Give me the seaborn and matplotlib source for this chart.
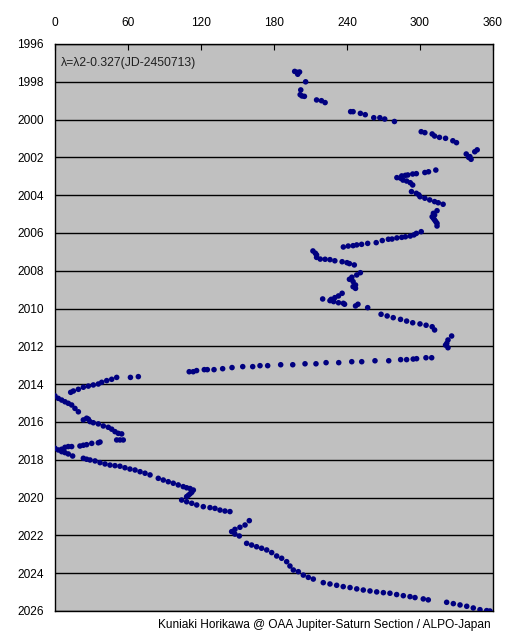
import pandas as pd
import matplotlib.pyplot as plt
import seaborn as sns

# Drift of the spot: longitude (System II corrected) vs. year
lon = [
    # 1997-2002
    199, 197, 201, 199.5, 206, 202, 201.5, 203, 205, 215, 219, 222, 243, 245, 251, 255,
    262, 267, 271, 279, 301, 304, 310, 312, 316, 321, 327, 330, 338, 341, 342, 340, 345, 347,
    # 2002-2006
    313, 304, 307, 297, 294, 290, 288, 285, 281, 284, 286, 289, 292, 294, 293, 297, 299, 300,
    304, 308, 312, 315, 319, 314, 311, 310, 312, 314, 314, 312, 311, 313,
    301, 297, 295, 292, 288, 285, 281, 277, 274, 269, 264, 257, 252, 248, 245, 241, 237,
    # 2007-2012
    212, 214, 215, 215, 218, 222, 226, 230, 236, 240, 242, 246,
    251, 248, 244, 242, 245, 247, 245, 247,
    220, 236, 233, 230, 227, 226, 229, 233, 237, 238, 247, 249, 257,
    268, 273, 278, 284, 289, 294, 300, 305, 310, 312,
    326, 323, 322, 321, 323,
    # 2012-2014
    309.6, 304.9, 297.2, 294.4, 289, 284.1, 274.3, 263, 252.1, 243.9, 233.2, 222.8, 214.5,
    205.5, 195.4, 185.5, 174.8, 168.5, 162.5, 154.3, 145.5, 137.8, 130.7, 125.2, 122.7,
    116.4, 113.6, 110.3, 68.5, 62,
    50.7, 46.6, 42.5, 38.4, 35.6, 31.5, 27.4, 23.3, 19.2, 15.1, 12.9,
    # 2014-2017
    0, 2.7, 5.5, 8.2, 10.9, 13.7, 16.4, 19.2, 23.3, 26, 27.4, 28.8, 31.5, 35.6, 39.7, 43.8,
    46.6, 49.3, 52, 54.8, 53.4, 50.7, 56.1,
    0, 2.7, 5.5, 8.2, 10.9, 13.7, 20.5, 23.3, 26, 30.2, 35.6, 37, 5.5, 8.2, 10.9, 14.5,
    # 2018-2022
    23.3, 26, 28.8, 32.9, 37, 41.1, 45.2, 49.3, 53.4, 57.5, 61.6, 65.8, 69.9, 74, 78.1,
    84.9, 89, 93.1, 97.2, 101.3, 105.4, 108.2, 111, 113.7, 112.4, 111, 109.6, 108.2,
    104.1, 108.2, 112.4, 116.5, 121.9, 127.4, 131.5, 135.6, 139.7, 143.8,
    159.7, 156.2, 152, 147.9, 145.2, 147.9, 151.5,
    # 2022-2026
    157.5, 161.6, 165.7, 169.8, 174, 178.1, 182.2, 186.3, 190.4, 193.1, 195.9, 200, 204.1,
    208.2, 212.3,
    220.5, 226, 231.5, 236.9, 242.5, 248, 253.4, 258.9, 264.4, 269.9, 275.3, 280.8, 286.3,
    291.8, 295.9, 302.7, 306.8, 321.9, 327.4, 332.9, 338.4, 343.8, 349.3, 354.8, 357.5,
]
year = [
    1997.5, 1997.45, 1997.48, 1997.6, 1998.0, 1998.43, 1998.68, 1998.75, 1998.77, 1998.96,
    1999.0, 1999.1, 1999.58, 1999.58, 1999.67, 1999.74, 1999.9, 1999.9, 1999.97, 2000.1,
    2000.64, 2000.69, 2000.76, 2000.87, 2000.94, 2000.99, 2001.12, 2001.22, 2001.82, 2001.96,
    2002.1, 2002.0, 2001.7, 2001.6,
    2002.67, 2002.8, 2002.76, 2002.86, 2002.88, 2002.93, 2002.95, 2002.98, 2003.07, 2003.1,
    2003.2, 2003.25, 2003.34, 2003.46, 2003.81, 2003.9, 2003.98, 2004.08, 2004.16, 2004.25,
    2004.34, 2004.4, 2004.48, 2004.82, 2004.96, 2005.14, 2005.31, 2005.49, 2005.63, 2005.05,
    2005.22, 2005.4,
    2005.93, 2006.02, 2006.1, 2006.16, 2006.2, 2006.23, 2006.26, 2006.32, 2006.33, 2006.4,
    2006.51, 2006.55, 2006.6, 2006.63, 2006.67, 2006.69, 2006.74,
    2006.95, 2007.07, 2007.16, 2007.29, 2007.38, 2007.39, 2007.41, 2007.47, 2007.52, 2007.57,
    2007.62, 2007.69,
    2008.1, 2008.22, 2008.34, 2008.45, 2008.57, 2008.75, 2008.84, 2008.93,
    2009.49, 2009.19, 2009.33, 2009.42, 2009.51, 2009.58, 2009.63, 2009.69, 2009.72, 2009.77,
    2009.86, 2009.77, 2009.95,
    2010.3, 2010.39, 2010.48, 2010.57, 2010.66, 2010.75, 2010.81, 2010.88, 2010.96, 2011.13,
    2011.45, 2011.66, 2011.84, 2011.93, 2012.07,
    2012.6, 2012.6, 2012.65, 2012.67, 2012.7, 2012.7, 2012.76, 2012.76, 2012.81, 2012.81,
    2012.86, 2012.86, 2012.92, 2012.92, 2012.97, 2012.97, 2013.02, 2013.02, 2013.07, 2013.07,
    2013.12, 2013.18, 2013.23, 2013.23, 2013.23, 2013.28, 2013.34, 2013.34, 2013.6, 2013.64,
    2013.64, 2013.74, 2013.81, 2013.9, 2013.99, 2014.04, 2014.1, 2014.16, 2014.27, 2014.36,
    2014.43,
    2014.62, 2014.75, 2014.84, 2014.93, 2015.01, 2015.1, 2015.28, 2015.46, 2015.89, 2015.8,
    2015.85, 2015.98, 2016.04, 2016.1, 2016.21, 2016.28, 2016.38, 2016.51, 2016.6, 2016.63,
    2016.95, 2016.95, 2016.95,
    2017.39, 2017.48, 2017.44, 2017.34, 2017.3, 2017.3, 2017.27, 2017.23, 2017.2, 2017.13,
    2017.1, 2017.06, 2017.57, 2017.62, 2017.69, 2017.8,
    2017.92, 2017.97, 2018.01, 2018.06, 2018.15, 2018.22, 2018.28, 2018.31, 2018.34, 2018.42,
    2018.49, 2018.54, 2018.63, 2018.71, 2018.8, 2018.98, 2019.07, 2019.16, 2019.24, 2019.33,
    2019.42, 2019.48, 2019.52, 2019.6, 2019.72, 2019.8, 2019.88, 2019.95,
    2020.13, 2020.22, 2020.3, 2020.39, 2020.48, 2020.53, 2020.57, 2020.66, 2020.71, 2020.74,
    2021.22, 2021.45, 2021.57, 2021.68, 2021.8, 2021.93, 2022.03,
    2022.42, 2022.51, 2022.6, 2022.68, 2022.77, 2022.91, 2023.09, 2023.21, 2023.39, 2023.62,
    2023.83, 2023.92, 2024.1, 2024.22, 2024.31,
    2024.5, 2024.57, 2024.64, 2024.71, 2024.76, 2024.83, 2024.89, 2024.94, 2024.99, 2025.03,
    2025.06, 2025.13, 2025.19, 2025.24, 2025.29, 2025.36, 2025.41, 2025.54, 2025.61, 2025.68,
    2025.75, 2025.84, 2025.93, 2025.98, 2026.0,
]

x_ticks = [0, 60, 120, 180, 240, 300, 360]
y_ticks = list(range(1996, 2027, 2))
formula_text = "λ=λ2-0.327(JD-2450713)"
credit_text = "Kuniaki Horikawa @ OAA Jupiter-Saturn Section / ALPO-Japan"

df = pd.DataFrame({"lon": lon, "year": year})

sns.set_style("white")
plt.rcParams["font.family"] = ["Liberation Sans", "DejaVu Sans"]

fig = plt.figure(figsize=(5.19, 6.43), dpi=100)
ax = fig.add_axes([55 / 519, 1 - 611 / 643, 438 / 519, 567 / 643])
ax.set_facecolor("#c0c0c0")

sns.scatterplot(data=df, x="lon", y="year", ax=ax, color="#000080",
                s=16, marker="o", edgecolor="none", zorder=3)

ax.set_xlim(0, 360)
ax.set_ylim(2026, 1996)
ax.set_xticks(x_ticks)
ax.set_yticks(y_ticks)
ax.xaxis.tick_top()
ax.tick_params(axis="x", direction="in", length=4, width=0.8, pad=10.5,
               labelsize=8.6, colors="black")
ax.tick_params(axis="y", length=0, pad=8, labelsize=8.6, colors="black")
ax.grid(axis="y", color="black", linewidth=1.0)
ax.grid(axis="x", visible=False)
ax.set_xlabel("")
ax.set_ylabel("")
for sp in ax.spines.values():
    sp.set_visible(True)
    sp.set_color("black")
    sp.set_linewidth(1.0)

ax.text(0.014, 0.977, formula_text, transform=ax.transAxes, fontsize=8.8,
        color="#202020", va="top", ha="left")
fig.text(491 / 519, 1 - 625 / 643, credit_text, fontsize=8.6, color="black",
         ha="right", va="center")

fig.savefig("out.png", dpi=100)
